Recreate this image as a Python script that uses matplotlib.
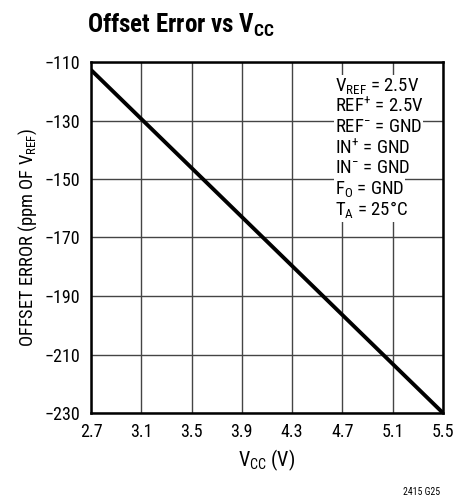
import matplotlib
matplotlib.use("Agg")
import matplotlib.pyplot as plt

fam = "Roboto Condensed"
plt.rcParams['font.family'] = [fam, 'DejaVu Sans']
plt.rcParams['mathtext.fontset'] = 'custom'
plt.rcParams['mathtext.rm'] = fam
plt.rcParams['mathtext.it'] = fam
plt.rcParams['mathtext.bf'] = fam + ':bold'

vcc = [2.7, 5.5]
offset = [-112.7, -230.0]
xticks = [2.7, 3.1, 3.5, 3.9, 4.3, 4.7, 5.1, 5.5]
yticks = [-110, -130, -150, -170, -190, -210, -230]

fig = plt.figure(figsize=(4.53, 4.97), dpi=100)
ax = fig.add_axes([91/453, 1-413/497, (443-91)/453, (413-62)/497])
ax.plot(vcc, offset, color='black', lw=2.8, solid_capstyle='butt', zorder=3)
ax.set_xlim(2.7, 5.5)
ax.set_ylim(-230, -110)
ax.set_xticks(xticks)
ax.set_xticklabels([f"{v:.1f}" for v in xticks], fontsize=13)
ax.set_yticks(yticks)
ax.set_yticklabels([f"\u2212{abs(v)}" for v in yticks], fontsize=13)
ax.tick_params(axis='x', length=0, pad=7)
ax.tick_params(axis='y', length=0, pad=8)
ax.grid(True, color='#444444', lw=1.0)
for s in ax.spines.values():
    s.set_linewidth(1.8)
ax.set_xlabel(r"V$_{\mathrm{CC}}$ (V)", fontsize=14.5, labelpad=5)
ax.set_ylabel(r"OFFSET ERROR (ppm OF V$_{\mathrm{REF}}$)", fontsize=13.3, labelpad=4)

fig.text(181/453, 1-25/497, r"Offset Error vs V$_{\mathbf{CC}}$", fontsize=18,
         fontweight='bold', ha='center', va='center')

lines = [r"V$_{\mathrm{REF}}$ = 2.5V", r"REF$^{+}$ = 2.5V", r"REF$^{-}$ = GND",
         r"IN$^{+}$ = GND", r"IN$^{-}$ = GND", r"F$_{\mathrm{O}}$ = GND", r"T$_{\mathrm{A}}$ = 25°C"]
ys = [86, 106, 127, 148, 168, 189, 210]
for t, y in zip(lines, ys):
    fig.text(335/453, 1-y/497, t, fontsize=13.5, ha='left', va='center',
             bbox=dict(facecolor='white', edgecolor='none', pad=0.8))

fig.text(440/453, 1-492/497, "2415 G25", fontsize=7, ha='right', va='center')
fig.savefig("out.png", dpi=100)
